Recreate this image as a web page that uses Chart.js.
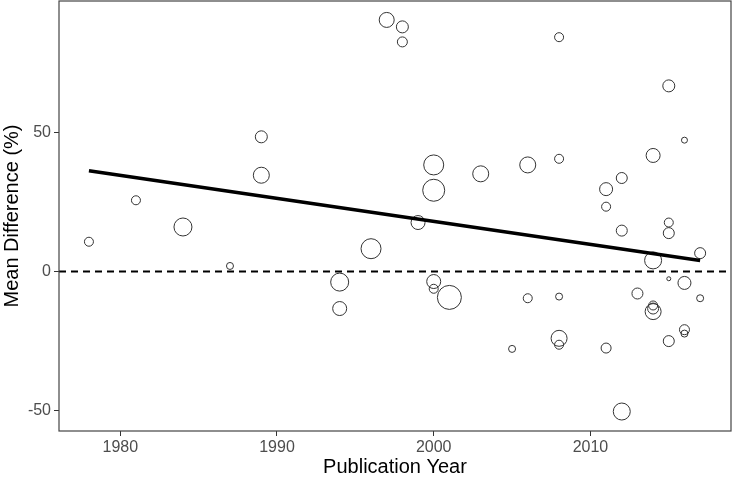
<!DOCTYPE html>
<html>
<head>
<meta charset="utf-8">
<script src="https://cdn.jsdelivr.net/npm/chart.js@4.4.1/dist/chart.umd.min.js"></script>
<style>
    body { margin: 0; background: #fff; }
</style>
</head>
<body>
<canvas id="grafica" width="732" height="479"></canvas>
<script>
//Datos
const anios = [1978, 1981, 1984, 1987, 1989, 1989, 1994, 1994, 1996, 1997, 1998, 1998, 1999, 2000, 2000, 2000, 2000, 2001, 2003, 2005, 2006, 2006, 2008, 2008, 2008, 2008, 2008, 2011, 2011, 2011, 2012, 2012, 2012, 2013, 2014, 2014, 2014, 2014, 2014, 2015, 2015, 2015, 2015, 2015, 2016, 2016, 2016, 2016, 2017, 2017];
const diferencias = [10.7, 25.6, 16.0, 2.0, 48.4, 34.6, -3.8, -13.3, 8.2, 90.4, 87.9, 82.5, 17.6, 38.3, 29.2, -3.6, -6.2, -9.3, 35.1, -27.8, 38.3, -9.6, 84.2, 40.5, -9.0, -24.0, -26.3, 29.6, 23.3, -27.5, 33.6, 14.7, -50.3, -7.9, 41.7, 4.0, -12.2, -13.3, -14.4, 66.7, 17.6, 13.8, -2.6, -25.0, 47.2, -4.1, -20.9, -22.3, 6.6, -9.6];
//Peso de cada estudio (tamaño del circulo)
const pesos = [4.5, 4.5, 9, 3.5, 6, 8, 9, 7, 10, 7.5, 6, 5, 7, 10, 11, 7, 4.5, 12, 8, 3.5, 8, 4.5, 4.5, 4.5, 3.5, 8, 4.5, 6.5, 4.5, 5, 5.5, 5.5, 8.5, 5.5, 7, 8.5, 4.5, 5.5, 8, 6, 4.5, 5.5, 2, 5.5, 3, 6.5, 5, 3.5, 5.5, 3.5];

//Recta de regresion
const regresionX = [1978, 2017];
const regresionY = [36.2, 3.95];

//Ticks
const ticksX = [1980, 1990, 2000, 2010];
const ticksY = [-50, 0, 50];

const limitesX = [1976.09, 2018.97];
const limitesY = [-57.3, 97.2];

const puntos = anios.map((a, i) => ({ x: a, y: diferencias[i], r: pesos[i] }));

const datosBurbujas = {
    type: 'bubble',
    data: puntos,
    backgroundColor: 'rgba(0,0,0,0)',
    borderColor: '#333333',
    borderWidth: 1,
    order: 2
};

const datosCero = {
    type: 'line',
    data: [{ x: limitesX[0], y: 0 }, { x: limitesX[1], y: 0 }],
    borderColor: '#000000',
    borderWidth: 1.8,
    borderDash: [7, 5],
    pointRadius: 0,
    order: 1
};

const datosRegresion = {
    type: 'line',
    data: regresionX.map((x, i) => ({ x: x, y: regresionY[i] })),
    borderColor: '#000000',
    borderWidth: 3.5,
    pointRadius: 0,
    order: 0
};

//Marco alrededor del area de la grafica
const marco = {
    id: 'marco',
    afterDraw(chart) {
        const { ctx, chartArea } = chart;
        ctx.save();
        ctx.strokeStyle = '#444444';
        ctx.lineWidth = 1.2;
        ctx.strokeRect(chartArea.left, chartArea.top, chartArea.right - chartArea.left, chartArea.bottom - chartArea.top);
        ctx.restore();
    }
};

const fuente = 'Liberation Sans, Arial, sans-serif';

const grafica = document.getElementById('grafica').getContext('2d');
const chart = new Chart(grafica, {
    type: 'bubble',
    data: {
        datasets: [datosBurbujas, datosCero, datosRegresion]
    },
    options: {
        responsive: false,
        animation: false,
        layout: { autoPadding: false, padding: { top: 1, right: 1, left: 0, bottom: 0 } },
        plugins: {
            legend: { display: false },
            tooltip: { enabled: false }
        },
        scales: {
            x: {
                type: 'linear',
                min: limitesX[0],
                max: limitesX[1],
                afterBuildTicks: (s) => { s.ticks = ticksX.map(v => ({ value: v })); },
                afterFit: (s) => { s.height = 48; s.paddingLeft = 0; s.paddingRight = 0; },
                border: { display: false },
                grid: { drawOnChartArea: false, drawTicks: true, tickLength: 5, color: '#333333', lineWidth: 1 },
                ticks: { font: { family: fuente, size: 16 }, color: '#4d4d4d', padding: 2, maxRotation: 0, callback: (v) => String(v) },
                title: { display: true, text: 'Publication Year', font: { family: fuente, size: 20 }, color: '#000000', padding: { top: 0, bottom: 0 } }
            },
            y: {
                type: 'linear',
                min: limitesY[0],
                max: limitesY[1],
                afterBuildTicks: (s) => { s.ticks = ticksY.map(v => ({ value: v })); },
                afterFit: (s) => { s.width = 59; s.paddingTop = 0; s.paddingBottom = 0; },
                border: { display: false },
                grid: { drawOnChartArea: false, drawTicks: true, tickLength: 5, color: '#333333', lineWidth: 1 },
                ticks: { font: { family: fuente, size: 16 }, color: '#4d4d4d', padding: 3, callback: (v) => String(v) },
                title: { display: true, text: 'Mean Difference (%)', font: { family: fuente, size: 20 }, color: '#000000', padding: { top: 0, bottom: 0 } }
            }
        }
    },
    plugins: [marco]
});
</script>
</body>
</html>
